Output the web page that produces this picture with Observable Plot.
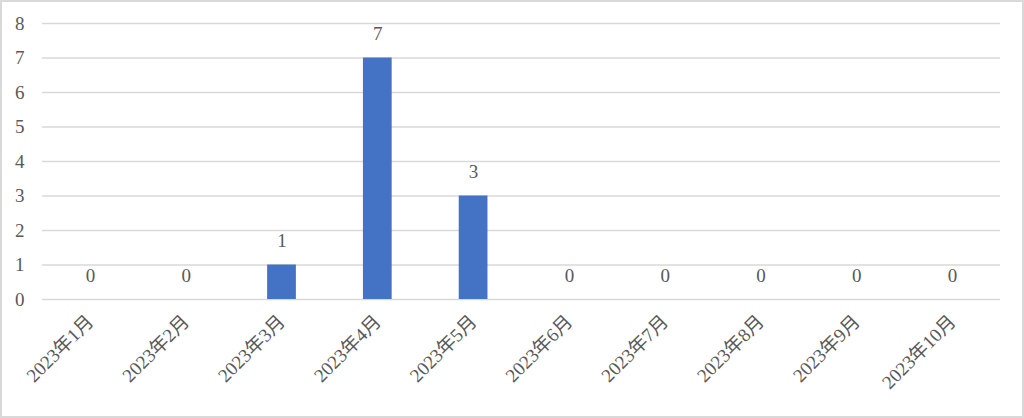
<!DOCTYPE html>
<html>
<head>
<meta charset="utf-8">
<script src="https://cdn.jsdelivr.net/npm/d3@7"></script>
<script src="https://cdn.jsdelivr.net/npm/@observablehq/plot@0.6"></script>
<style>
  html, body { margin: 0; padding: 0; background: #fff; }
  #chart svg { display: block; outline: 2px solid #d9d9d9; outline-offset: -2px; }
</style>
</head>
<body>
<div id="chart"></div>
<script>
const months = ["2023年1月","2023年2月","2023年3月","2023年4月","2023年5月","2023年6月","2023年7月","2023年8月","2023年9月","2023年10月"];
const counts = [0, 0, 1, 7, 3, 0, 0, 0, 0, 0];
const yTicks = [0, 1, 2, 3, 4, 5, 6, 7, 8];

const data = months.map((m, i) => ({month: m, count: counts[i]}));
const font = "'Liberation Serif', 'DejaVu Serif', 'Noto Sans CJK JP', serif";

const chart = Plot.plot({
  width: 1024,
  height: 418,
  marginLeft: 42,
  marginRight: 24,
  marginTop: 23,
  marginBottom: 119,
  style: { fontFamily: font, fontSize: "19px", color: "#595959", background: "#fff" },
  x: { domain: months, paddingInner: 0.7, paddingOuter: 0.35, round: false, label: null },
  y: { domain: [0, 8], label: null },
  marks: [
    Plot.gridY(yTicks, { stroke: "#d9d9d9", strokeOpacity: 1, strokeWidth: 1.3 }),
    Plot.axisY(yTicks, { tickSize: 0, tickPadding: 18, fontSize: 19, fill: "#595959", label: null }),
    Plot.axisX({ tickRotate: -45, tickSize: 0, tickPadding: 19, fontSize: 19, fill: "#595959", label: null }),
    Plot.barY(data, { x: "month", y: "count", fill: "#4472C4" }),
    Plot.text(data, { x: "month", y: "count", text: d => String(d.count), dy: -24, fill: "#595959", fontSize: 19 })
  ]
});
document.getElementById("chart").appendChild(chart);
</script>
</body>
</html>
